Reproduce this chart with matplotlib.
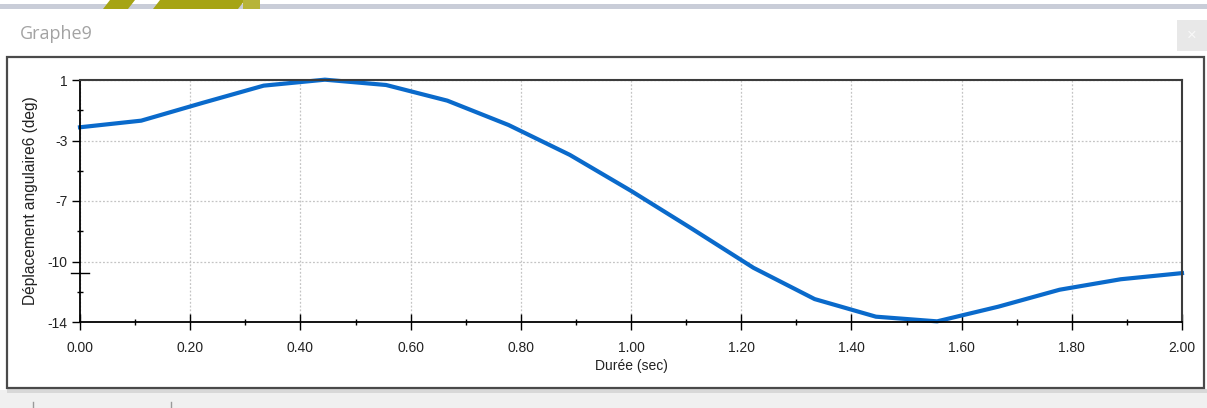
import matplotlib
matplotlib.use("Agg")
import matplotlib.pyplot as plt
from matplotlib.patches import Rectangle, Polygon
from matplotlib.ticker import FixedLocator, MultipleLocator

plt.rcParams["font.family"] = ["Liberation Sans", "DejaVu Sans"]

# ── data ─────────────────────────────────────────────
t_sec = [i * 2 / 18 for i in range(19)]
angle_deg = [-1.93, -1.52, -0.42, 0.65, 1.02, 0.69, -0.28, -1.79, -3.64,
             -5.87, -8.23, -10.64, -12.58, -13.67, -13.96, -13.05, -12.0,
             -11.35, -10.97]

y_ticks = [1, -2.75, -6.5, -10.25, -14]
y_tick_labels = ["1", "-3", "-7", "-10", "-14"]
y_minor = [-0.875, -4.625, -8.375, -12.125]

W, H = 1207, 408
fig = plt.figure(figsize=(W / 100, H / 100), dpi=100)

# ── window chrome (pixel coords) ─────────────────────
bg = fig.add_axes([0, 0, 1, 1], zorder=0)
bg.set_xlim(0, W)
bg.set_ylim(H, 0)
bg.axis("off")
bg.add_patch(Rectangle((0, 4), W, 5, color="#c9cdd8", lw=0))
for xs in ([110, 135, 128, 103], [160, 245, 238, 153]):
    bg.add_patch(Polygon(list(zip(xs, [0, 0, 9, 9])), color="#a6a414", lw=0))
bg.add_patch(Rectangle((243, 0), 17, 9, color="#b7b43a", lw=0))
bg.text(20, 34, "Graphe9", fontsize=13, color="#a3a3a3", va="center",
        family=["Open Sans", "DejaVu Sans"])
bg.add_patch(Rectangle((1177, 20), 30, 31, color="#e8e8e8", lw=0))
bg.text(1192, 35, "×", fontsize=12, color="#f8f8f8", ha="center", va="center")
bg.add_patch(Rectangle((0, 390), W, 18, color="#f0f0f0", lw=0))
bg.add_patch(Rectangle((7, 389), W, 4, color="#d8d8d8", lw=0))
bg.add_patch(Rectangle((7, 57), 1197, 331, facecolor="white",
                       edgecolor="#4a4a4a", lw=1.6))
for xv in (33, 171):
    bg.plot([xv, xv], [402, 408], color="#9a9a9a", lw=1)

# ── chart ────────────────────────────────────────────
ax = fig.add_axes([80 / W, (H - 322) / H, 1102 / W, 242 / H], zorder=1)
ax.plot(t_sec, angle_deg, color="#0a6acb", lw=3, clip_on=False,
        solid_joinstyle="round")

ax.set_xlim(0, 2.0)
ax.set_ylim(-14, 1)
ax.xaxis.set_major_locator(MultipleLocator(0.2))
ax.xaxis.set_minor_locator(MultipleLocator(0.1))
ax.xaxis.set_major_formatter(lambda v, p: f"{v:.2f}")
ax.yaxis.set_major_locator(FixedLocator(y_ticks))
ax.set_yticklabels(y_tick_labels)
ax.yaxis.set_minor_locator(FixedLocator(y_minor))

ax.tick_params(axis="x", which="major", direction="inout", length=11,
               width=1, pad=8, labelsize=10, labelcolor="#222222")
ax.tick_params(axis="x", which="minor", direction="inout", length=4, width=1)
ax.tick_params(axis="y", which="major", direction="out", length=6,
               width=1, pad=3, labelsize=10, labelcolor="#222222")
ax.tick_params(axis="y", which="minor", direction="inout", length=4, width=1)
# marker tick at the final value
ax.plot([-0.008, 0.008], [-10.97, -10.97], color="black", lw=1,
        clip_on=False, transform=ax.get_yaxis_transform())

ax.grid(True, which="major", color="#c4c4c4", ls=(0, (1.5, 1.5)), lw=0.9)
for s in ("left", "bottom"):
    ax.spines[s].set_color("black")
    ax.spines[s].set_linewidth(1.3)
for s in ("top", "right"):
    ax.spines[s].set_color("#3c3c3c")
    ax.spines[s].set_linewidth(1.5)

ax.set_xlabel("Durée (sec)", fontsize=10, color="#222222", labelpad=3)
ax.set_ylabel("Déplacement angulaire6 (deg)", fontsize=11.2,
              color="#222222", labelpad=7)

fig.savefig("out.png", dpi=100)
